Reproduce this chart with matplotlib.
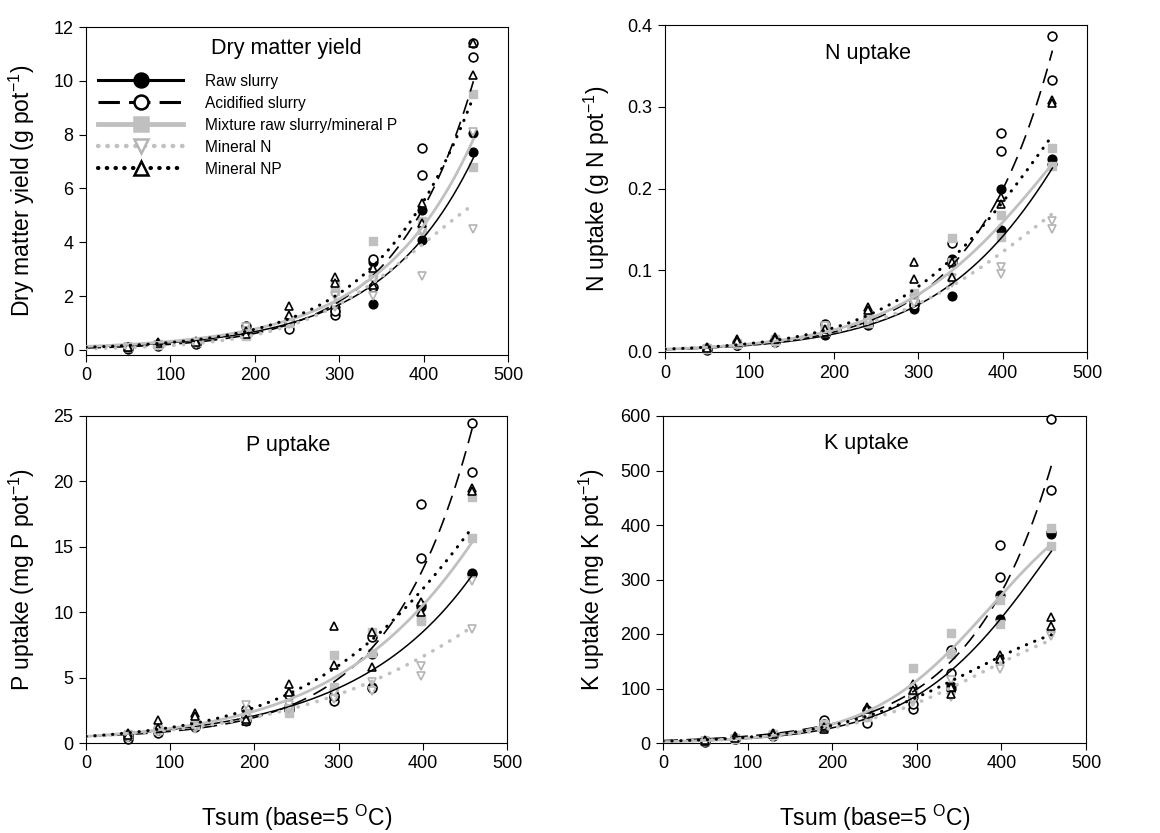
import numpy as np
import matplotlib
matplotlib.use("Agg")
import matplotlib.pyplot as plt
from matplotlib.lines import Line2D

plt.rcParams['font.family'] = ['Liberation Sans', 'DejaVu Sans']
plt.rcParams['mathtext.fontset'] = 'custom'
plt.rcParams['mathtext.rm'] = 'Liberation Sans'
plt.rcParams['mathtext.it'] = 'Liberation Sans:italic'
plt.rcParams['mathtext.bf'] = 'Liberation Sans:bold'

# ---------------- data ----------------
tsum = [50, 85, 130, 190, 241, 295, 340, 398, 459]
treatments = ["Raw slurry", "Acidified slurry", "Mixture raw slurry/mineral P",
              "Mineral N", "Mineral NP"]

# Dry matter yield (g pot-1), two replicates per Tsum
dm_raw = [[0.08, 0.18, 0.25, 0.60, 0.95, 1.60, 3.25, 5.20, 7.35],
          [0.10, 0.20, 0.27, 0.65, 1.10, 1.45, 1.70, 4.10, 8.05]]
dm_acid = [[0.05, 0.15, 0.22, 0.88, 0.77, 1.30, 3.37, 7.50, 11.40],
           [0.10, 0.20, 0.27, 0.60, 1.05, 1.45, 2.32, 6.50, 10.90]]
dm_mix = [[0.10, 0.20, 0.28, 0.55, 1.10, 2.45, 4.06, 4.80, 9.50],
          [0.12, 0.22, 0.30, 0.50, 1.00, 2.20, 2.80, 4.45, 6.80]]
dm_minN = [[0.08, 0.15, 0.22, 0.85, 1.00, 2.00, 2.00, 2.75, 4.50],
           [0.10, 0.18, 0.25, 0.70, 0.95, 1.60, 2.60, 4.40, 8.10]]
dm_NP = [[0.12, 0.30, 0.33, 0.70, 1.64, 2.70, 3.05, 5.45, 11.40],
         [0.10, 0.25, 0.30, 0.60, 1.30, 2.50, 2.40, 4.70, 10.20]]

# N uptake (g N pot-1)
n_raw = [[0.004, 0.009, 0.013, 0.021, 0.040, 0.058, 0.114, 0.200, 0.236],
         [0.005, 0.010, 0.014, 0.022, 0.035, 0.053, 0.069, 0.149, 0.230]]
n_acid = [[0.003, 0.008, 0.012, 0.034, 0.033, 0.062, 0.133, 0.268, 0.386],
          [0.004, 0.009, 0.015, 0.025, 0.036, 0.057, 0.110, 0.246, 0.333]]
n_mix = [[0.004, 0.010, 0.014, 0.024, 0.047, 0.072, 0.140, 0.167, 0.249],
         [0.005, 0.011, 0.016, 0.030, 0.035, 0.066, 0.110, 0.141, 0.227]]
n_minN = [[0.003, 0.008, 0.010, 0.032, 0.040, 0.065, 0.084, 0.104, 0.151],
          [0.004, 0.009, 0.012, 0.026, 0.038, 0.060, 0.090, 0.096, 0.160]]
n_NP = [[0.006, 0.016, 0.018, 0.024, 0.055, 0.110, 0.110, 0.190, 0.308],
        [0.005, 0.013, 0.016, 0.028, 0.051, 0.089, 0.092, 0.181, 0.304]]

# P uptake (mg P pot-1)
p_raw = [[0.5, 0.9, 1.4, 1.8, 2.5, 3.5, 6.82, 10.55, 13.0],
         [0.6, 1.0, 1.3, 1.7, 2.8, 3.7, 4.30, 10.40, 12.9]]
p_acid = [[0.3, 0.8, 1.5, 2.6, 3.7, 3.2, 8.1, 18.3, 24.5],
          [0.5, 1.0, 1.2, 2.0, 2.6, 3.6, 4.2, 14.15, 20.7]]
p_mix = [[0.6, 1.0, 1.6, 2.0, 2.3, 6.7, 8.5, 9.3, 18.8],
         [0.7, 1.1, 1.4, 2.3, 2.7, 4.3, 6.9, 9.5, 15.65]]
p_minN = [[0.5, 0.9, 1.1, 2.9, 2.9, 3.8, 4.7, 5.9, 12.4],
          [0.4, 0.85, 1.2, 2.0, 2.6, 3.4, 4.0, 5.1, 8.7]]
p_NP = [[0.76, 1.73, 2.3, 1.65, 4.5, 8.96, 8.45, 10.8, 19.5],
        [0.6, 1.15, 2.1, 1.8, 3.9, 5.98, 5.8, 10.05, 19.3]]

# K uptake (mg K pot-1)
k_raw = [[3, 8, 14, 28, 60, 90, 105, 271, 384],
         [4, 10, 16, 30, 55, 85, 100, 228, 388]]
k_acid = [[2, 7, 12, 42, 36, 63, 171, 364, 594],
          [3, 9, 15, 35, 50, 71, 128, 305, 465]]
k_mix = [[3, 8, 15, 32, 54, 138, 202, 262, 394],
         [4, 9, 17, 35, 48, 100, 164, 219, 361]]
k_minN = [[2, 6, 10, 24, 45, 75, 84, 136, 199],
          [3, 7, 12, 28, 50, 80, 115, 150, 196]]
k_NP = [[4, 12, 18, 26, 66, 109, 90, 161, 232],
        [5, 10, 16, 30, 62, 97, 102, 155, 214]]

# fitted curves: y = c + E / (1 + E/cap), E = A*exp(Tsum/b)
fit_x_end = 459
dm_fit_c = [0, 0, 0, 0, 0]
dm_fit_A = [0.11, 0.071, 0.13, 0.0463, 0.0987]
dm_fit_b = [110, 92.8, 112, 78, 97]
dm_fit_cap = [np.inf, np.inf, np.inf, 8.0, 58.6]

n_fit_c = [0, 0, 0, 0, 0]
n_fit_A = [0.003, 0.003, 0.0035, 0.0035, 0.0035]
n_fit_b = [99, 95.4, 95, 99, 91]
n_fit_cap = [0.824, np.inf, 0.484, 0.318, 0.5176]

p_fit_c = [0, 0.3, 0, 0, 0]
p_fit_A = [0.51, 0.21, 0.51, 0.51, 0.51]
p_fit_b = [142.2, 97, 125, 140, 115]
p_fit_cap = [np.inf, np.inf, 66.2, 25.9, 41.0]

k_fit_c = [0, 0, 0, 0, 0]
k_fit_A = [2.43, 4.48, 2.3, 2.75, 3.33]
k_fit_b = [80.8, 97, 72, 83, 83]
k_fit_cap = [694, np.inf, 500, 260, 260]

# ---------------- styles ----------------
GRAY = '#c0c0c0'
line_styles = [
    dict(color='black', ls='-', lw=1.1),
    dict(color='black', ls=(0, (9, 5)), lw=1.2),
    dict(color=GRAY, ls='-', lw=2.0),
    dict(color=GRAY, ls=(0, (0.1, 2.6)), lw=2.6, dash_capstyle='round'),
    dict(color='black', ls=(0, (0.1, 2.8)), lw=2.2, dash_capstyle='round'),
]
marker_styles = [
    dict(marker='o', mfc='black', mec='black', mew=1.0),
    dict(marker='o', mfc='white', mec='black', mew=1.2),
    dict(marker='s', mfc=GRAY, mec=GRAY, mew=1.0),
    dict(marker='v', mfc='white', mec='#b4b4b4', mew=1.2),
    dict(marker='^', mfc='white', mec='black', mew=1.2),
]

fig = plt.figure(figsize=(11.6, 8.33), dpi=100)
W, H = 1160, 833


def add_ax(l, r, t, b):
    return fig.add_axes([l / W, 1 - b / H, (r - l) / W, (b - t) / H])


panels = [
    dict(ax=add_ax(86, 508, 27, 355), data=[dm_raw, dm_acid, dm_mix, dm_minN, dm_NP],
         fit=(dm_fit_c, dm_fit_A, dm_fit_b, dm_fit_cap), ylim=(-0.19, 12),
         yticks=np.arange(0, 13, 2), fmt='{:.0f}', title='Dry matter yield',
         ylabel='Dry matter yield (g pot$^{\\mathrm{-1}}$)', ylab_x=-0.116, xlabel=False,
         tpos=(0.475, 0.935)),
    dict(ax=add_ax(665, 1087, 25, 352), data=[n_raw, n_acid, n_mix, n_minN, n_NP],
         fit=(n_fit_c, n_fit_A, n_fit_b, n_fit_cap), ylim=(0, 0.4),
         yticks=np.arange(0, 0.41, 0.1), fmt='{:.1f}', title='N uptake',
         ylabel='N uptake (g N pot$^{\\mathrm{-1}}$)', ylab_x=-0.126, xlabel=False,
         tpos=(0.48, 0.914)),
    dict(ax=add_ax(86, 507, 416, 743), data=[p_raw, p_acid, p_mix, p_minN, p_NP],
         fit=(p_fit_c, p_fit_A, p_fit_b, p_fit_cap), ylim=(0, 25),
         yticks=np.arange(0, 26, 5), fmt='{:.0f}', title='P uptake',
         ylabel='P uptake (mg P pot$^{\\mathrm{-1}}$)', ylab_x=-0.116, xlabel=True,
         tpos=(0.48, 0.911)),
    dict(ax=add_ax(663, 1086, 416, 743), data=[k_raw, k_acid, k_mix, k_minN, k_NP],
         fit=(k_fit_c, k_fit_A, k_fit_b, k_fit_cap), ylim=(0, 600),
         yticks=np.arange(0, 601, 100), fmt='{:.0f}', title='K uptake',
         ylabel='K uptake (mg K pot$^{\\mathrm{-1}}$)', ylab_x=-0.132, xlabel=True,
         tpos=(0.48, 0.917)),
]

xs = np.linspace(0, fit_x_end, 300)
x_arr = np.array(tsum)

for p in panels:
    ax = p['ax']
    c_, A_, b_, cap_ = p['fit']
    # markers
    for i, reps in enumerate(p['data']):
        for rep in reps:
            ax.plot(x_arr, rep, ls='none', ms=6.3, zorder=3, clip_on=False,
                    **marker_styles[i])
    # fitted curves
    for i in range(5):
        E = A_[i] * np.exp(xs / b_[i])
        y = c_[i] + E / (1 + E / cap_[i])
        ax.plot(xs, y, zorder=4, **line_styles[i])
    ax.set_xlim(0, 500)
    ax.set_ylim(*p['ylim'])
    ax.set_xticks(np.arange(0, 501, 100))
    ax.set_yticks(p['yticks'])
    ax.set_yticklabels([p['fmt'].format(v) for v in p['yticks']])
    ax.tick_params(direction='out', length=5, width=0.8, labelsize=13, pad=4)
    for s in ax.spines.values():
        s.set_linewidth(0.8)
    ax.set_ylabel(p['ylabel'], fontsize=16.5)
    ax.yaxis.set_label_coords(p['ylab_x'], 0.5)
    ax.text(p['tpos'][0], p['tpos'][1], p['title'], transform=ax.transAxes,
            ha='center', va='center', fontsize=15.5)
    if p['xlabel']:
        ax.set_xlabel('Tsum (base=5 $^{\\mathrm{O}}$C)', fontsize=16.5)
        ax.xaxis.set_label_coords(0.5, -0.183)

# legend in first panel
leg_line = [
    dict(color='black', ls='-', lw=2.2),
    dict(color='black', ls=(0, (7, 3)), lw=2.2),
    dict(color=GRAY, ls='-', lw=3.5),
    dict(color=GRAY, ls=(0, (0.1, 2.0)), lw=3.2, dash_capstyle='round'),
    dict(color='black', ls=(0, (0.1, 2.0)), lw=3.0, dash_capstyle='round'),
]
handles = []
for i in range(5):
    ms = dict(marker_styles[i])
    ms['mew'] = 1.8
    handles.append(Line2D([], [], ms=10, **leg_line[i], **ms))
panels[0]['ax'].legend(handles, treatments, loc='upper left',
                       bbox_to_anchor=(0.028, 0.857), frameon=False,
                       borderaxespad=0, borderpad=0, fontsize=11.2,
                       handlelength=5.5, handletextpad=1.4, labelspacing=0.45,
                       numpoints=1)

fig.savefig('out.png', dpi=100)
